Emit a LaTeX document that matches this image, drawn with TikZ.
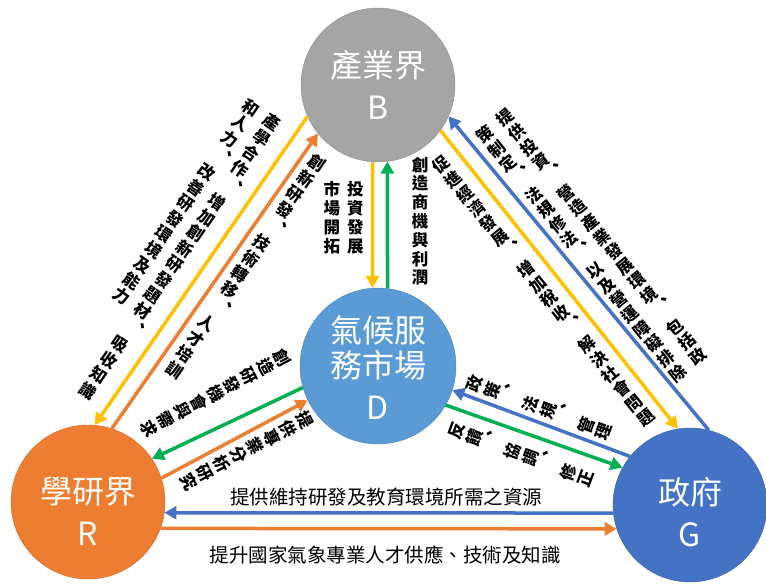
\documentclass[tikz,border=0pt]{standalone}
\usepackage{fontspec}
\setmainfont{Noto Sans CJK TC}
\usetikzlibrary{arrows.meta}

\definecolor{indgray}{HTML}{A5A5A5}
\definecolor{mktblue}{HTML}{5B9BD5}
\definecolor{acdorange}{HTML}{ED7D31}
\definecolor{govblue}{HTML}{4472C4}
\definecolor{arryellow}{HTML}{FFC000}
\definecolor{arrgreen}{HTML}{00B050}

% vertical (top to bottom) text, one character per cell
\makeatletter
\def\vcommachar{、}
\newcommand{\vcell}[1]{\hbox to 1em{\hss\vrule height 0.9em depth 0.24em width 0pt\relax #1\hss}}
\newcommand{\vcomma}{\hbox to 1em{\vrule height 0.9em depth 0.24em width 0pt\relax\kern0.55em\raise0.55em\hbox{、}\hss}}
\newcommand{\vtext}[1]{\vtop{\offinterlineskip\@tfor\vch:=#1\do{\ifx\vch\vcommachar\vcomma\else\vcell{\vch}\fi}}}
\makeatother

\begin{document}
\begin{tikzpicture}[x=1pt,y=-1pt,
    circ/.style={circle, minimum size=154pt, inner sep=0pt, draw=#1!85!black, fill=#1},
    ctxt/.style={text=white, align=center, font=\fontsize{32}{35}\selectfont},
    arr/.style={line width=3.5pt, draw=#1, -{Triangle[width=13pt,length=12pt]}},
    vlbl/.style={inner sep=0pt, font=\fontsize{16.5}{19.5}\selectfont\bfseries},
    hlbl/.style={inner sep=0pt, font=\fontsize{19.5}{22}\selectfont}]
    \useasboundingbox (0,0) rectangle (766,586);
    % circles
    \node[circ=indgray] (b) at (378,85) {};
    \node[circ=mktblue, minimum size=156pt] (d) at (378,366) {};
    \node[circ=acdorange] (r) at (88,502) {};
    \node[circ=govblue] (g) at (690,505) {};
    \node[ctxt] (btxt) at (b) {產業界\\[7pt]B};
    \node[ctxt] (dtxt) at ([yshift=-2pt]d) {氣候服\\務市場\\[7pt]D};
    \node[ctxt] (rtxt) at ([yshift=-9pt]r) {學研界\\[7pt]R};
    \node[ctxt] (gtxt) at ([yshift=-7pt]g) {政府\\[7pt]G};
    % arrows
    \draw[arr=arryellow] (b.266) -- (d.94);
    \draw[arr=arrgreen] (d.83) -- (b.277);
    \draw[arr=arryellow] (b.204) -- (r.85);
    \draw[arr=acdorange] (r.72) -- (b.219);
    \draw[arr=govblue] (g.76) -- (b.336);
    \draw[arr=arryellow] (b.324) -- (g.99);
    \draw[arr=arrgreen] (d.196) -- (r.34);
    \draw[arr=acdorange] (r.18) -- (d.206);
    \draw[arr=govblue] (g.141) -- (d.342);
    \draw[arr=arrgreen] (d.330) -- (g.151);
    \draw[arr=govblue] (g.186) -- (r.352);
    \draw[arr=acdorange] (r.340) -- (g.198);
    % labels
    \node[vlbl, rotate=-34.5] (rbtxt1) at (169,250) {\vtext{和人力、改善研發環境及能力}\kern9pt\vtext{產學合作、增加創新研發題材、吸收知識}};
    \node[vlbl, rotate=-34.5] (rbtxt2) at (245,267) {\vtext{創新研發、技術轉移、人才培訓}};
    \node[vlbl] (bdtxt1) at (343.5,218.5) {\vtext{市場開拓}\kern7pt\vtext{投資發展}};
    \node[vlbl] (bdtxt2) at (420,222) {\vtext{創造商機與利潤}};
    \node[vlbl, rotate=39] (bgtxt1) at (592,246) {\vtext{策制定、法規修法、以及營運障礙排除}\kern10pt\vtext{提供投資、營造產業發展環境、包括政}};
    \node[vlbl, rotate=39] (bgtxt2) at (544,292) {\vtext{促進經濟發展、增加稅收、解決社會問題}};
    \node[vlbl, rotate=-62] (drtxt1) at (215,394) {\vtext{創造研發機會與需求}};
    \node[vlbl, rotate=-62] (drtxt2) at (246,451) {\vtext{提供專業分析研究}};
    \node[vlbl, rotate=69.5] (dgtxt1) at (540,408) {\vtext{政策、法規、管理}};
    \node[vlbl, rotate=69.5] (dgtxt2) at (522,455) {\vtext{反饋、協調、修正}};
    \node[hlbl] (rgtxt1) at (386,497) {提供維持研發及教育環境所需之資源};
    \node[hlbl] (rgtxt2) at (385,555) {提升國家氣象專業人才供應、技術及知識};
\end{tikzpicture}
\end{document}
